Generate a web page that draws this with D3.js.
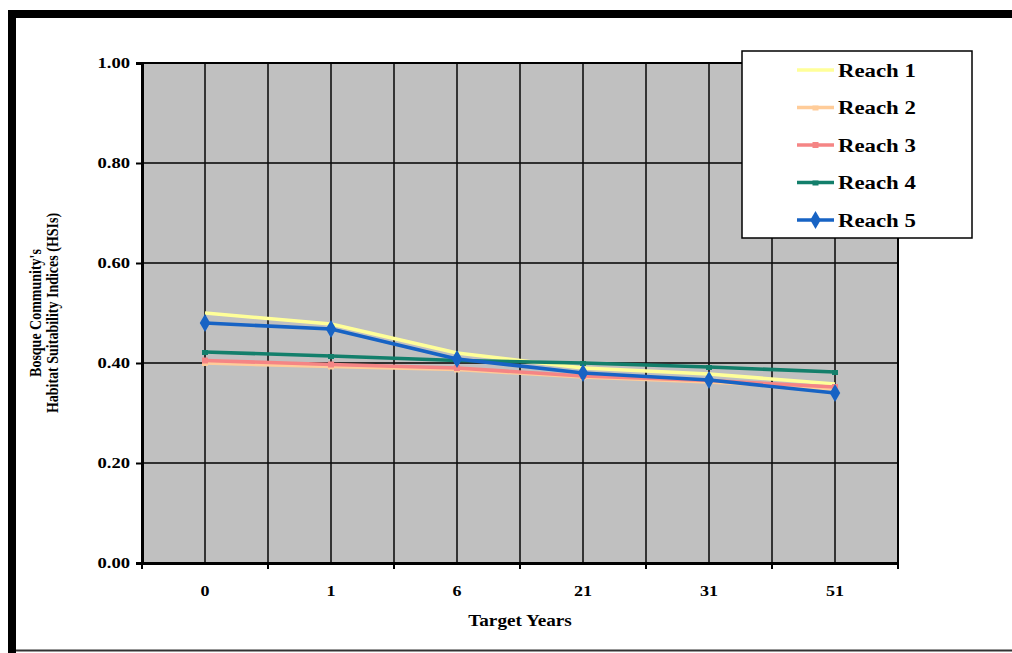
<!DOCTYPE html>
<html>
<head>
<meta charset="utf-8">
<script src="https://cdn.jsdelivr.net/npm/d3@7"></script>
<style>
  html, body { margin: 0; padding: 0; background: #fff; }
  svg { display: block; }
  text { font-family: "Liberation Serif", "Times New Roman", serif; font-weight: bold; fill: #000; }
</style>
</head>
<body>
<svg id="chart" width="1012" height="653"></svg>
<script>
// ---- data ----
const categories = ["0", "1", "6", "21", "31", "51"];
const reach1 = [0.50, 0.478, 0.42, 0.39, 0.378, 0.358];
const reach2 = [0.40, 0.393, 0.387, 0.372, 0.362, 0.348];
const reach3 = [0.405, 0.397, 0.39, 0.374, 0.365, 0.352];
const reach4 = [0.422, 0.414, 0.405, 0.40, 0.392, 0.382];
const reach5 = [0.48, 0.468, 0.408, 0.38, 0.366, 0.34];
const seriesNames = ["Reach 1", "Reach 2", "Reach 3", "Reach 4", "Reach 5"];
const yTicks = [0, 0.2, 0.4, 0.6, 0.8, 1.0];
const xTitle = "Target Years";
const yTitleLines = ["Bosque Community's", "Habitat Suitability Indices (HSIs)"];

const series = [
  { name: seriesNames[0], values: reach1, color: "#FFFF99", marker: "none" },
  { name: seriesNames[1], values: reach2, color: "#FFCC99", marker: "dash" },
  { name: seriesNames[2], values: reach3, color: "#F58585", marker: "square" },
  { name: seriesNames[3], values: reach4, color: "#137F6B", marker: "dash" },
  { name: seriesNames[4], values: reach5, color: "#1763C4", marker: "diamond" }
];

const SX = 1.2; // horizontal glyph stretch seen in the reference
const svg = d3.select("#chart");
const W = 1012, H = 653;
const plot = { left: 142, right: 898, top: 63, bottom: 563 };

// frame
svg.append("rect").attr("x", 0).attr("y", 0).attr("width", W).attr("height", H).attr("fill", "#fff");
svg.append("rect").attr("x", 8).attr("y", 10).attr("width", W - 8).attr("height", 8).attr("fill", "#000");
svg.append("rect").attr("x", 8).attr("y", 10).attr("width", 8).attr("height", H - 10).attr("fill", "#000");
svg.append("line").attr("x1", 16).attr("x2", W).attr("y1", 650.5).attr("y2", 650.5)
  .attr("stroke", "#333").attr("stroke-width", 2);

// scales
const x = d3.scaleBand().domain(categories).range([plot.left, plot.right]).paddingInner(0).paddingOuter(0);
const xc = d => x(d) + x.bandwidth() / 2;
const y = d3.scaleLinear().domain([0, 1]).range([plot.bottom, plot.top]);

// plot background
svg.append("rect").attr("x", plot.left).attr("y", plot.top)
  .attr("width", plot.right - plot.left).attr("height", plot.bottom - plot.top)
  .attr("fill", "#C0C0C0");

// gridlines
const grid = svg.append("g");
grid.selectAll("line.h").data(yTicks).join("line")
  .attr("x1", plot.left).attr("x2", plot.right)
  .attr("y1", d => y(d)).attr("y2", d => y(d))
  .attr("stroke", "#000").attr("stroke-width", 1.6);
const vPositions = [];
categories.forEach(c => { vPositions.push(x(c)); vPositions.push(xc(c)); });
vPositions.push(plot.right);
grid.selectAll("line.v").data(vPositions).join("line")
  .attr("x1", d => d).attr("x2", d => d)
  .attr("y1", plot.top).attr("y2", plot.bottom)
  .attr("stroke", "#111").attr("stroke-width", 1.6);

// plot border
svg.append("rect").attr("x", plot.left).attr("y", plot.top)
  .attr("width", plot.right - plot.left).attr("height", plot.bottom - plot.top)
  .attr("fill", "none").attr("stroke", "#000").attr("stroke-width", 2);

// axes
const yAxis = d3.axisLeft(y).tickValues(yTicks).tickFormat(d3.format(".2f")).tickSize(6).tickPadding(6);
const gy = svg.append("g").attr("transform", `translate(${plot.left},0)`).call(yAxis);
gy.select(".domain").attr("stroke", "#000").attr("stroke-width", 3);
gy.selectAll(".tick line").attr("stroke", "#000").attr("stroke-width", 2);
gy.selectAll(".tick text")
  .attr("font-size", 15.5).attr("font-family", "Liberation Serif, serif").attr("font-weight", "bold").attr("fill", "#000")
  .attr("x", -12 / SX).attr("transform", `scale(${SX},1)`);

const xAxis = d3.axisBottom(x).tickSize(0).tickPadding(22);
const gx = svg.append("g").attr("transform", `translate(0,${plot.bottom})`).call(xAxis);
gx.select(".domain").attr("stroke", "#000").attr("stroke-width", 3);
gx.selectAll(".tick text")
  .attr("font-size", 15).attr("font-family", "Liberation Serif, serif").attr("font-weight", "bold").attr("fill", "#000")
  .attr("transform", `scale(${SX},1)`);
// boundary tick marks
svg.append("g").selectAll("line").data(categories.map(c => x(c)).concat([plot.right])).join("line")
  .attr("x1", d => d).attr("x2", d => d)
  .attr("y1", plot.bottom).attr("y2", plot.bottom + 6)
  .attr("stroke", "#000").attr("stroke-width", 2);

// axis titles
svg.append("g").attr("transform", `translate(${(plot.left + plot.right) / 2},626)`)
  .append("text").attr("text-anchor", "middle").attr("font-size", 16)
  .attr("transform", `scale(${SX},1)`).text(xTitle);
const yt = svg.append("text")
  .attr("transform", `translate(0,${(plot.top + plot.bottom) / 2}) rotate(-90) scale(1,${SX})`)
  .attr("text-anchor", "middle").attr("font-size", 14);
yt.append("tspan").attr("x", 0).attr("y", 41 / SX).text(yTitleLines[0]);
yt.append("tspan").attr("x", 0).attr("y", 58 / SX).text(yTitleLines[1]);

// lines
const line = d3.line().x((d, i) => xc(categories[i])).y(d => y(d));
const gLines = svg.append("g");
series.forEach(s => {
  gLines.append("path").datum(s.values).attr("d", line)
    .attr("fill", "none").attr("stroke", s.color).attr("stroke-width", 3.6)
    .attr("stroke-linejoin", "round");
});

function drawMarker(g, type, cx, cy, color) {
  if (type === "diamond") {
    g.append("path").attr("d", d3.symbol(d3.symbolDiamond, 95)()).attr("transform", `translate(${cx},${cy})`).attr("fill", color);
  } else if (type === "square") {
    g.append("rect").attr("x", cx - 3).attr("y", cy - 3).attr("width", 6).attr("height", 6).attr("fill", color);
  } else if (type === "dash") {
    g.append("rect").attr("x", cx - 3).attr("y", cy - 2).attr("width", 6).attr("height", 5).attr("fill", color);
  }
}
series.forEach(s => {
  s.values.forEach((v, i) => drawMarker(gLines, s.marker, xc(categories[i]), y(v), s.color));
});

// legend
const lg = svg.append("g");
lg.append("rect").attr("x", 742).attr("y", 51).attr("width", 230).attr("height", 187)
  .attr("fill", "#fff").attr("stroke", "#000").attr("stroke-width", 1.5);
const legendY = d3.scalePoint().domain(seriesNames).range([70, 220]);
series.forEach(s => {
  const ly = legendY(s.name);
  lg.append("line").attr("x1", 797).attr("x2", 834).attr("y1", ly).attr("y2", ly)
    .attr("stroke", s.color).attr("stroke-width", 3.6);
  drawMarker(lg, s.marker, 815.5, ly, s.color);
  lg.append("g").attr("transform", `translate(838,${ly})`)
    .append("text").attr("dy", "0.35em").attr("font-size", 19)
    .attr("transform", `scale(${SX},1)`).text(s.name);
});
</script>
</body>
</html>
